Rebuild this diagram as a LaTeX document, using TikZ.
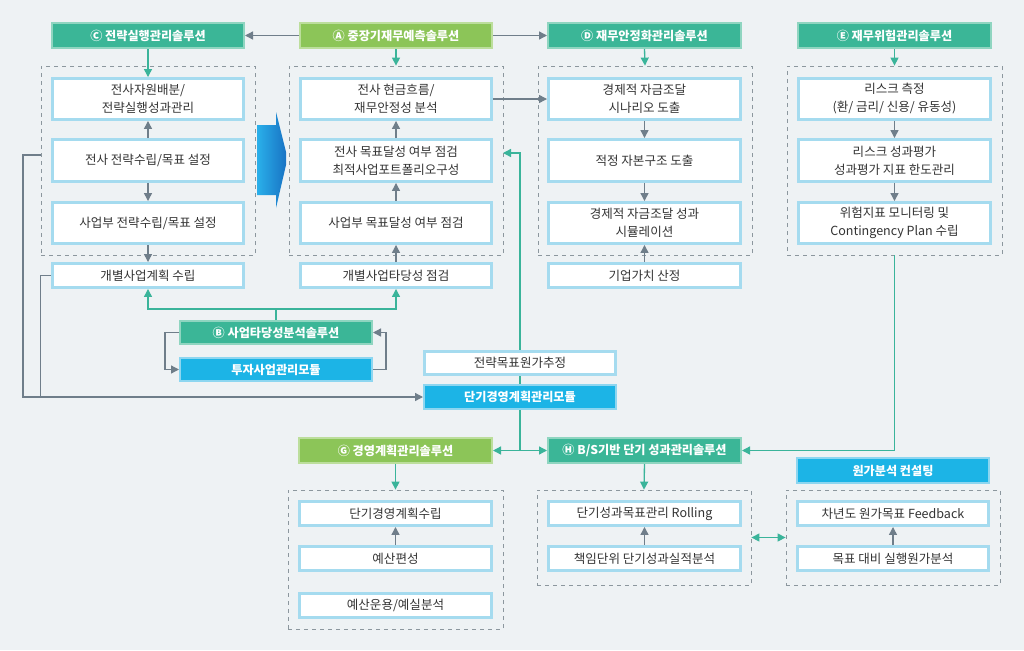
\documentclass[tikz,border=0pt]{standalone}
\usepackage{fontspec}
\setmainfont{Noto Sans CJK KR}
\usetikzlibrary{arrows.meta,fit,calc}
\definecolor{bgc}{HTML}{EEF2F4}
\definecolor{tealf}{HTML}{3BB697}
\definecolor{teald}{HTML}{8FD5C0}
\definecolor{greenf}{HTML}{8CC558}
\definecolor{greend}{HTML}{BCDE9C}
\definecolor{bluef}{HTML}{1CB4E6}
\definecolor{blued}{HTML}{8DD6F0}
\definecolor{wline}{HTML}{A5DBEF}
\definecolor{arrg}{HTML}{6F7E8A}
\definecolor{tline}{HTML}{3AB49A}
\definecolor{dashc}{HTML}{8C979E}
\definecolor{txt}{HTML}{333333}
\definecolor{bigl}{HTML}{2AB0EA}
\definecolor{bigd}{HTML}{1873C4}
\pgfdeclarelayer{bglayer}
\pgfdeclarelayer{linelayer}
\pgfsetlayers{bglayer,linelayer,main}
\tikzset{
  wb/.style={draw=wline, line width=2.2pt, fill=white, inner sep=0pt},
  wbt/.style={inner sep=0pt, align=center, text=txt, font=\fontsize{9.4}{13.5}\selectfont},
  hteal/.style={draw=teald, line width=1.5pt, fill=tealf, inner sep=0pt},
  hgreen/.style={hteal, draw=greend, fill=greenf},
  hblue/.style={hteal, draw=blued, fill=bluef},
  ht/.style={inner sep=0pt, text=white, font=\bfseries\fontsize{9.1}{10}\selectfont},
  grp/.style={draw=dashc, dashed, line width=0.6pt, inner sep=0pt},
  garrow/.style={draw=arrg, line width=1pt, -{Triangle[length=6pt,width=6pt]}},
  gline/.style={draw=arrg, line width=1pt},
  tarrow/.style={draw=tline, line width=1pt, -{Triangle[length=6pt,width=6pt]}},
  tplain/.style={draw=tline, line width=1pt},
}
\newcommand{\mkbox}[6]{\node[wb, fit={({#2+1.5},{#3+1.5}) ({#4-1.5},{#5-1.5})}] (#1) {};
  \node[wbt] (#1-t) at (#1.center) {#6};}
\newcommand{\mkhead}[7]{\node[#2, fit={({#3+1},{#4+1}) ({#5-1},{#6-1})}] (#1) {};
  \node[ht] (#1-t) at (#1.center) {#7};}
\newcommand{\mkgrp}[5]{\node[grp, fit={(#2,#3) (#4,#5)}] (#1) {};}
\begin{document}
\begin{tikzpicture}[x=0.75pt,y=-0.75pt]
\begin{pgfonlayer}{bglayer}
\fill[bgc] (0,0) rectangle (1024,650);
\end{pgfonlayer}
\useasboundingbox (0,0) rectangle (1024,650);

% dashed groups
\mkgrp{gC}{41}{66}{255}{255}
\mkgrp{gA}{289}{66}{503}{255}
\mkgrp{gD}{538}{66}{752}{255}
\mkgrp{gE}{787}{66}{1002}{255}
\mkgrp{gG}{288}{490}{503}{629}
\mkgrp{gH}{537}{490}{751}{585}
\mkgrp{gI}{786}{490}{1000}{585}

% headers
\mkhead{hC}{hteal}{51}{22}{245}{49}{Ⓒ 전략실행관리솔루션}
\mkhead{hA}{hgreen}{299}{22}{493}{49}{Ⓐ 중장기재무예측솔루션}
\mkhead{hD}{hteal}{547}{22}{742}{49}{Ⓓ 재무안정화관리솔루션}
\mkhead{hE}{hteal}{797}{22}{992}{49}{Ⓔ 재무위험관리솔루션}
\mkhead{hB}{hteal}{179}{320}{373}{345}{Ⓑ 사업타당성분석솔루션}
\mkhead{mInv}{hblue}{179}{357}{373}{382}{투자사업관리모듈}
\mkhead{mSt}{hblue}{423}{384}{617}{410}{단기경영계획관리모듈}
\mkhead{hG}{hgreen}{298}{437}{493}{464}{Ⓖ 경영계획관리솔루션}
\mkhead{hH}{hteal}{547}{437}{742}{464}{Ⓗ B/S기반 단기 성과관리솔루션}
\mkhead{hCost}{hblue}{796}{457}{990}{484}{원가분석 컨설팅}

% column C
\mkbox{C1}{51}{77}{245}{121}{전사자원배분/\\전략실행성과관리}
\mkbox{C2}{51}{138}{245}{183}{전사 전략수립/목표 설정}
\mkbox{C3}{51}{201}{245}{245}{사업부 전략수립/목표 설정}
\mkbox{C4}{51}{262}{245}{289}{개별사업계획 수립}
% column A
\mkbox{A1}{299}{77}{493}{121}{전사 현금흐름/\\재무안정성 분석}
\mkbox{A2}{299}{138}{493}{183}{전사 목표달성 여부 점검\\최적사업포트폴리오구성}
\mkbox{A3}{299}{201}{493}{245}{사업부 목표달성 여부 점검}
\mkbox{A4}{299}{262}{493}{289}{개별사업타당성 점검}
% column D
\mkbox{D1}{547}{77}{742}{121}{경제적 자금조달\\시나리오 도출}
\mkbox{D2}{547}{138}{742}{183}{적정 자본구조 도출}
\mkbox{D3}{547}{201}{742}{245}{경제적 자금조달 성과\\시뮬레이션}
\mkbox{D4}{547}{262}{742}{289}{기업가치 산정}
% column E
\mkbox{E1}{797}{77}{992}{121}{리스크 측정\\(환/ 금리/ 신용/ 유동성)}
\mkbox{E2}{797}{138}{992}{183}{리스크 성과평가\\성과평가 지표 한도관리}
\mkbox{E3}{797}{201}{992}{245}{위험지표 모니터링 및\\Contingency Plan 수립}
% middle
\mkbox{sTgt}{423}{350}{617}{376}{전략목표원가추정}
% bottom
\mkbox{G1}{298}{500}{493}{527}{단기경영계획수립}
\mkbox{G2}{298}{545}{493}{572}{예산편성}
\mkbox{G3}{298}{592}{493}{619}{예산운용/예실분석}
\mkbox{H1}{547}{500}{742}{527}{단기성과목표관리 Rolling}
\mkbox{H2}{547}{545}{742}{572}{책임단위 단기성과실적분석}
\mkbox{I1}{796}{500}{990}{527}{차년도 원가목표 Feedback}
\mkbox{I2}{796}{545}{990}{572}{목표 대비 실행원가분석}

% big blue arrow
\shade[left color=bigl, right color=bigd]
  (257,125) -- (276,125) -- (276,112) -- (286,152) -- (286,165) -- (276,208) -- (276,195) -- (257,195) -- cycle;

% header arrows
\draw[tarrow] (hC.south) -- (C1.north);
\draw[tarrow] (hA.south) -- (gA.north);
\draw[tarrow] (hD.south) -- (gD.north);
\draw[tarrow] (hE.south) -- (gE.north);
\draw[garrow] (hA.west) -- (hC.east);
\draw[garrow] (hA.east) -- (hD.west);
\draw[garrow] (A1.east) -- (D1.west);

% inner arrows
\draw[garrow] (C2.north) -- (C1.south);
\draw[garrow] (C2.south) -- (C3.north);
\draw[garrow] (C3.south) -- (C4.north);
\draw[garrow] (A2.north) -- (A1.south);
\draw[garrow] (A3.north) -- (A2.south);
\draw[garrow] (A4.north) -- (A3.south);
\draw[garrow] (D1.south) -- (D2.north);
\draw[garrow] (D2.south) -- (D3.north);
\draw[garrow] (D4.north) -- (D3.south);
\draw[garrow] (E1.south) -- (E2.north);
\draw[garrow] (E2.south) -- (E3.north);
\draw[garrow] (G2.north) -- (G1.south);
\draw[garrow] (H2.north) -- (H1.south);
\draw[garrow] (I2.north) -- (I1.south);

% B connections
\coordinate (bj) at ($(hB.north)+(0,-11)$);
\draw[tplain] (hB.north) -- (bj);
\draw[tarrow] (bj) -| (C4.south);
\draw[tarrow] (bj) -| (A4.south);
\draw[garrow] (hB.west) -- ++(-14,0) |- (mInv.west);
\draw[garrow] (mInv.east) -- ++(13,0) |- (hB.east);

% left gray feedback lines
\coordinate (cOut) at (41,155);
\draw[garrow] (cOut) -- (23,155) |- (mSt.west);
\draw[gline] (C4.west) -| (gC.west |- mSt.west);

% E to H
\draw[tarrow] (gE.south) |- (hH.east);

% vertical teal line through middle
\coordinate (aIn) at (503,153);
\coordinate (jn) at (mSt.center |- hH.west);
\begin{pgfonlayer}{linelayer}
\draw[tarrow] (jn) |- (aIn);
\end{pgfonlayer}
\draw[tarrow] (jn) -- (hG.east);
\draw[tarrow] (jn) -- (hH.west);

% bottom
\draw[tarrow] (hG.south) -- (gG.north);
\draw[tarrow] (hH.south) -- (gH.north);
\draw[draw=tline, line width=1pt, {Triangle[length=6pt,width=6pt]}-{Triangle[length=6pt,width=6pt]}] (gH.east) -- (gI.west);
\end{tikzpicture}
\end{document}
